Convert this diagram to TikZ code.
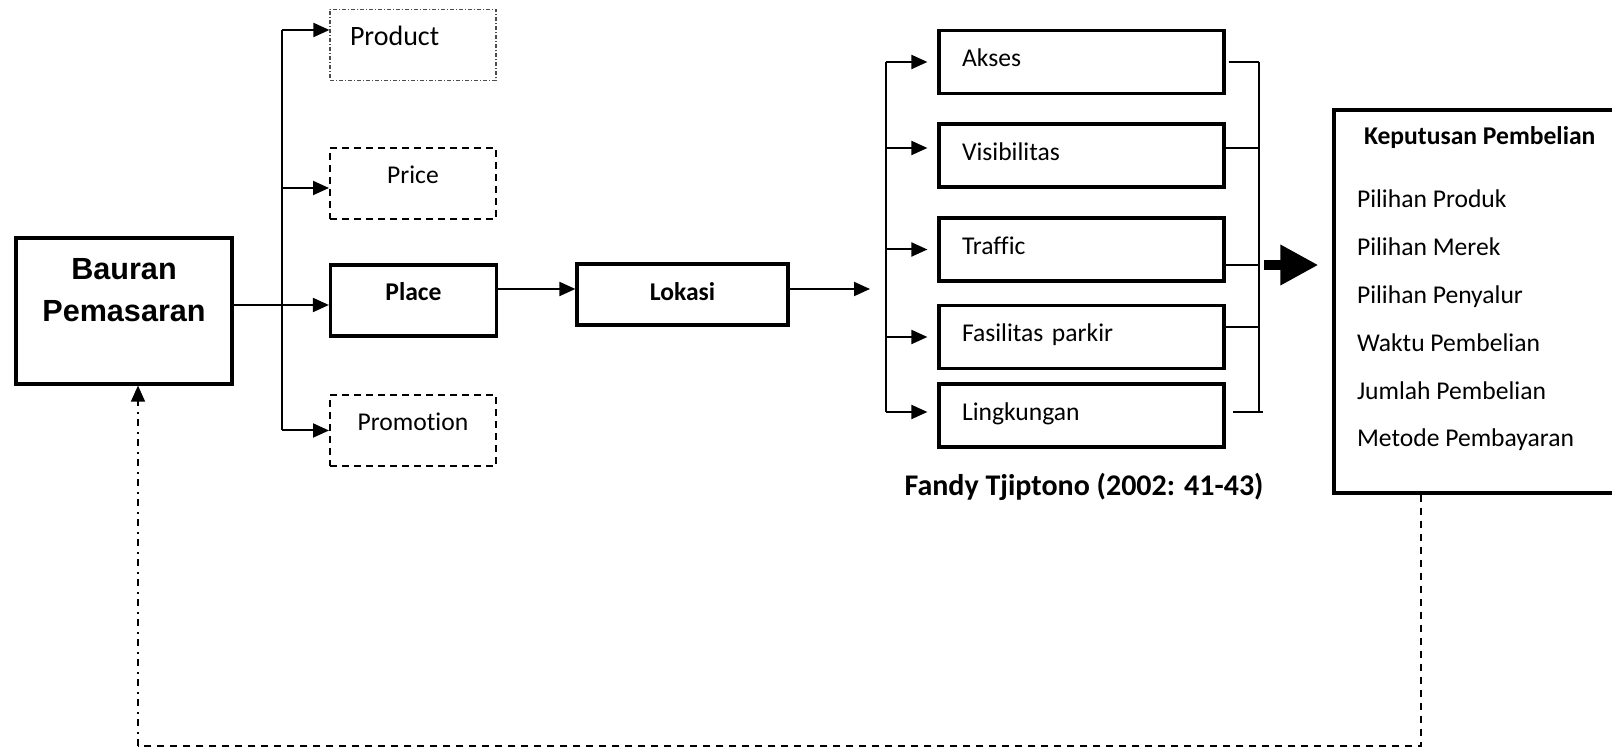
\documentclass[tikz,border=0pt]{standalone}
\usepackage{fontspec}
\setmainfont{Carlito}[Ligatures={NoCommon}]
\newfontfamily\arialfont{Liberation Sans}
\usetikzlibrary{arrows.meta}

\begin{document}
\begin{tikzpicture}[x=0.5pt,y=-0.5pt,line width=1pt,>={Triangle[length=8pt,width=7pt]}]
\tikzstyle{box}=[draw,rectangle,line width=1.6pt,inner sep=0pt,font=\fontsize{12.8}{15}\selectfont,text height=9pt,text depth=4pt]
\tikzstyle{mix box}=[box,line width=1pt,dash pattern=on 3.5pt off 2.5pt,minimum width=83pt,minimum height=35.5pt,text depth=9pt]
\tikzstyle{factor box}=[box,minimum width=142.5pt,minimum height=31.5pt,text width=119.5pt,align=left]
\tikzstyle{item}=[anchor=base west,inner sep=0pt,font=\fontsize{12.8}{15}\selectfont]
\tikzstyle{bracket}=[line width=0.75pt]

\clip (0,0) rectangle (1612,747);

% Marketing mix
\node[box,line width=1.6pt,minimum width=108pt,minimum height=73pt,align=center,
  font=\arialfont\bfseries\fontsize{15.3}{21}\selectfont,text height=,text depth=] (bauran) at (124,311) {Bauran\\Pemasaran\\~};

\node[mix box,line width=0.6pt,draw=black!70,dash pattern=on 2pt off 1pt on 0.5pt off 1pt,
  font=\fontsize{14}{16}\selectfont,text width=63pt,align=left,text depth=8pt] (product) at (413,45) {Product};
\node[mix box] (price) at (413,183.5) {Price};
\node[mix box,solid,line width=1.6pt,font=\bfseries\fontsize{12.8}{15}\selectfont] (place) at (413.5,300.5) {Place};
\node[mix box] (promotion) at (413,430.5) {Promotion};

\node[box,minimum width=105.5pt,minimum height=30.5pt,text depth=2.5pt,font=\bfseries\fontsize{12.8}{15}\selectfont] (lokasi) at (682.5,294.5) {Lokasi};

% Draw the location factors
\foreach \name / \y / \txt in {akses/62/Akses, visibilitas/155.5/Visibilitas, traffic/249.5/Traffic,
    parkir/337/Fasilitas parkir, lingkungan/415.5/Lingkungan}
\node[factor box] (\name) at (1081.5,\y) {\txt};

\node[anchor=base,inner sep=0pt,font=\bfseries\fontsize{15}{18}\selectfont] (sumber) at (1084,496) {Fandy Tjiptono (2002: 41-43)};

% Purchase decision
\node[box,minimum width=158pt,minimum height=191.5pt] (kep) at (1492,301.5) {};
\node[item,font=\bfseries\fontsize{12.8}{15}\selectfont] (kep-title) at (1363,145) {Keputusan Pembelian};
\foreach \i / \txt in {1/Pilihan Produk, 2/Pilihan Merek, 3/Pilihan Penyalur,
    4/Waktu Pembelian, 5/Jumlah Pembelian, 6/Metode Pembayaran}
\node[item] (kep-\i) at (1356,{208+47.8*(\i-1)}) {\txt};

% Connect the mix to its four elements
\coordinate (fork) at (282,0);
\foreach \name / \dy in {product/7.5pt, price/-2.25pt, place/-2.25pt, promotion/0pt}
\coordinate (\name-in) at ([yshift=\dy]\name.west);
\draw ([yshift=3pt]bauran.east) -- (fork |- place-in);
\draw (fork |- product-in) -- (fork |- promotion-in);
\foreach \name in {product,price,place,promotion}
\draw[->] (fork |- \name-in) -- (\name-in);

\draw[->] ([yshift=5.75pt]place.east) -- ([yshift=2.75pt]lokasi.west);
\coordinate (split) at (870,289);
\draw[->] ([yshift=2.75pt]lokasi.east) -- (split);

% Fan out to the factors
\coordinate (fan) at (886,0);
\foreach \name / \dy in {akses/0pt, visibilitas/3.75pt, traffic/0pt, parkir/0pt, lingkungan/1.75pt}
\coordinate (\name-in) at ([yshift=\dy]\name.west);
\draw (fan |- akses-in) -- (fan |- lingkungan-in);
\foreach \name in {akses,visibilitas,traffic,parkir,lingkungan}
\draw[->,shorten >=5pt] (fan |- \name-in) -- (\name-in);

% Gather the factors
\coordinate (gather) at (1259,0);
\foreach \name / \dy in {akses/0pt, visibilitas/3.75pt, traffic/-7.75pt, parkir/5pt, lingkungan/1.75pt}
\coordinate (\name-out) at ([yshift=\dy]\name.east);
\draw[bracket] (gather |- akses-out) -- (gather |- lingkungan-out);
\foreach \name in {visibilitas,traffic,parkir}
\draw[bracket] (\name-out) -- (gather |- \name-out);
\draw[bracket,shorten <=1.5pt] (akses-out) -- (gather |- akses-out);
\draw[bracket,shorten <=3.5pt,shorten >=-2pt] (lingkungan-out) -- (gather |- lingkungan-out);

\coordinate (fat) at (1264,265);
\draw[line width=5pt,-{Triangle[length=19pt,width=19pt]}] (fat) -- ([xshift=-7pt]kep.west |- fat);

% Feedback loop
\coordinate (fbR) at (1421,746);
\coordinate (fbL) at (138,746);
\draw[line width=0.75pt,dash pattern=on 3.5pt off 3pt] (kep.south -| fbR) -- (fbR) -- (fbL);
\draw[->,line width=0.75pt,dash pattern=on 3.5pt off 2.5pt on 1pt off 3pt] (fbL) -- (bauran.south -| fbL);

\end{tikzpicture}
\end{document}
